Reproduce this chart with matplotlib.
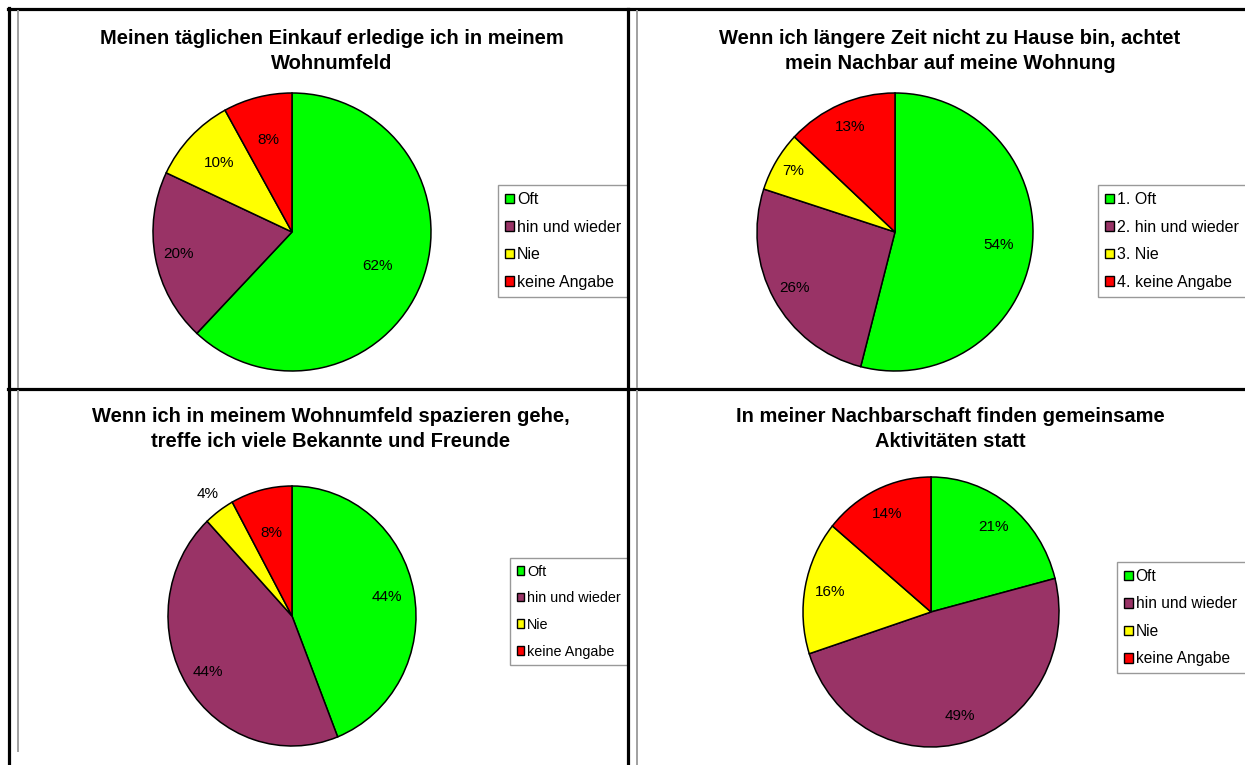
import matplotlib.pyplot as plt
from matplotlib.patches import Patch
from matplotlib.lines import Line2D
import numpy as np

plt.rcParams['font.family'] = ['Liberation Sans', 'DejaVu Sans']

# Daten
titel = [
    "Meinen täglichen Einkauf erledige ich in meinem\nWohnumfeld",
    "Wenn ich längere Zeit nicht zu Hause bin, achtet\nmein Nachbar auf meine Wohnung",
    "Wenn ich in meinem Wohnumfeld spazieren gehe,\ntreffe ich viele Bekannte und Freunde",
    "In meiner Nachbarschaft finden gemeinsame\nAktivitäten statt",
]
kategorien = ["Oft", "hin und wieder", "Nie", "keine Angabe"]
kategorien_nummeriert = ["1. Oft", "2. hin und wieder", "3. Nie", "4. keine Angabe"]

werte_einkauf = [62, 20, 10, 8]
werte_nachbar = [54, 26, 7, 13]
werte_spazieren = [44, 44, 4, 8]
werte_aktivitaeten = [21, 49, 16, 14]

farben = ['#00ff00', '#993366', '#ffff00', '#ff0000']

W, H = 1245, 765
fig = plt.figure(figsize=(W / 100, H / 100), dpi=100)


def fx(x):
    return x / W


def fy(y):
    return 1 - y / H


# Layout je Diagramm: Mittelpunkt, Radien (px), Titelmitte, Legendenbox, Label-Abstände
panels = [
    dict(werte=werte_einkauf, labels=kategorien, c=(292, 232), r=(139, 139),
         t=(332, 51), leg=(498, 185, 130), fs=11.5, ls=0.78,
         dist=[0.66, 0.83, 0.72, 0.68]),
    dict(werte=werte_nachbar, labels=kategorien_nummeriert, c=(895, 232), r=(138, 139),
         t=(950, 51), leg=(1098, 185, 170), fs=11.5, ls=0.78,
         dist=[0.76, 0.83, 0.86, 0.82]),
    dict(werte=werte_spazieren, labels=kategorien, c=(292, 616), r=(124, 130),
         t=(331, 429), leg=(510, 558, 118), fs=10.4, ls=0.88,
         dist=[0.78, 0.8, 1.16, 0.66]),
    dict(werte=werte_aktivitaeten, labels=kategorien, c=(931, 612), r=(128, 135),
         t=(950, 429), leg=(1117, 562, 150), fs=11.2, ls=0.8,
         dist=[0.8, 0.8, 0.8, 0.8]),
]

for p, tt in zip(panels, titel):
    cx, cy = p['c']
    rx, ry = p['r']
    m = 1.1
    ax = fig.add_axes([fx(cx - m * rx), fy(cy + m * ry), fx(2 * m * rx), 2 * m * ry / H])
    wedges, _ = ax.pie(p['werte'], colors=farben, startangle=90, counterclock=False,
                       wedgeprops=dict(edgecolor='black', linewidth=1.1))
    ax.set_aspect('auto')
    ax.set_xlim(-m, m)
    ax.set_ylim(-m, m)
    ax.axis('off')
    for w, v, d in zip(wedges, p['werte'], p['dist']):
        th = np.deg2rad((w.theta1 + w.theta2) / 2)
        ax.text(d * np.cos(th), d * np.sin(th), f"{v}%", ha='center', va='center',
                fontsize=11)

    fig.text(fx(p['t'][0]), fy(p['t'][1]), tt, ha='center', va='center',
             fontsize=14.5, fontweight='bold', linespacing=1.45)

    lx, ly, lw = p['leg']
    handles = [Patch(facecolor=f, edgecolor='black', linewidth=1) for f in farben]
    fig.legend(handles, p['labels'], loc='upper left',
               bbox_to_anchor=(fx(lx), fy(ly), fx(lw), 0), mode='expand',
               borderaxespad=0, fontsize=p['fs'], frameon=True, fancybox=False,
               edgecolor='#808080', handlelength=0.55, handleheight=0.55,
               handletextpad=0.2, labelspacing=p['ls'], borderpad=0.45)

# Tabellenrahmen
dick = dict(color='black', linewidth=2.3, zorder=10)
duenn = dict(color='#a0a0a0', linewidth=1.4, zorder=10)
rahmen = [
    ([8, W], [9, 9], dick),
    ([9, 9], [8, H], dick),
    ([628, 628], [9, H], dick),
    ([8, W], [389, 389], dick),
    ([18, 18], [11, 387], duenn),
    ([18, 18], [391, 751], duenn),
    ([637, 637], [11, 387], duenn),
    ([637, 637], [391, H], duenn),
]
for xs, ys, st in rahmen:
    fig.add_artist(Line2D([fx(x) for x in xs], [fy(y) for y in ys], **st))

plt.savefig('out.png', dpi=100)
